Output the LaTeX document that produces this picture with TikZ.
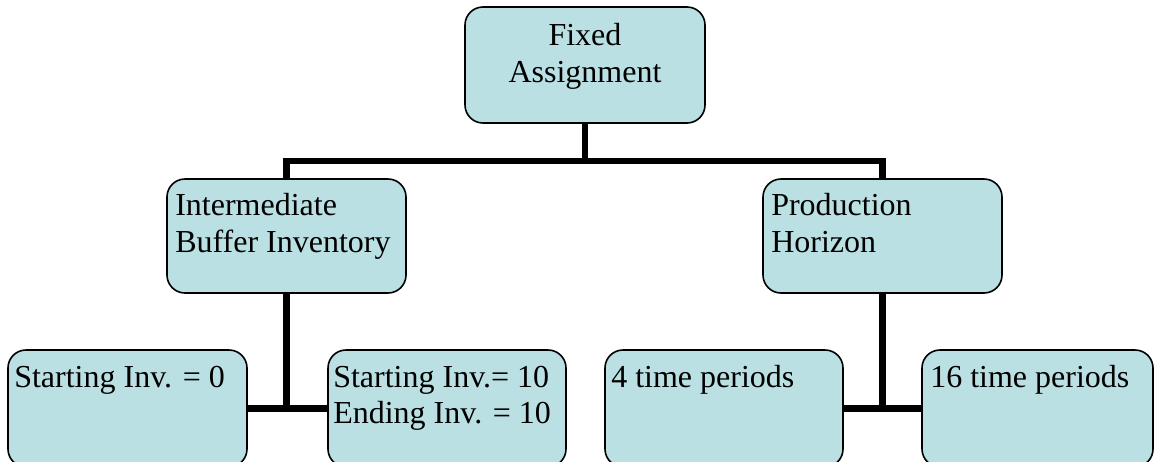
\documentclass[tikz,border=0pt]{standalone}
\usepackage{fontspec}
\setmainfont{Liberation Serif}
\definecolor{boxfill}{RGB}{187,224,227}
\begin{document}
\begin{tikzpicture}[x=0.75pt,y=-0.75pt,
  box/.style={draw=black, fill=boxfill, line width=1.2pt, rounded corners=13.5pt,
    inner sep=0pt, outer sep=0pt, anchor=north west, minimum width=179.25pt},
  midbox/.style={box, minimum height=85.5pt},
  lowbox/.style={box, minimum height=87.75pt},
  txt/.style={inner sep=0pt, anchor=base west, font=\fontsize{24pt}{28pt}\selectfont},
  ctxt/.style={txt, anchor=base},
  conn/.style={line width=5pt, draw=black}]
\useasboundingbox (0,0) rectangle (1156,461);
% boxes
\node[box, minimum width=180pt, minimum height=87pt] (top) at (465,7) {};
\node[midbox] (mL) at (167,179) {};
\node[midbox] (mR) at (763,179) {};
\node[lowbox] (b1) at (8,350) {};
\node[lowbox, minimum width=178.5pt] (b2) at (328,350) {};
\node[lowbox, minimum width=178.5pt] (b3) at (605,350) {};
\node[lowbox, minimum width=173.25pt] (b4) at (922,350) {};
% connectors
\coordinate (j1) at (585,161);
\draw[conn] (top.south) -- (j1);
\draw[conn] (mL.north) |- (j1) -| (mR.north);
\draw[conn] (mL.south) -- (mL.south |- b1.east);
\draw[conn] (b1.east) -- (b2.west);
\draw[conn] (mR.south) -- (mR.south |- b3.east);
\draw[conn] (b3.east) -- (b4.west);
% texts
\node[ctxt] (t1) at (585,45) {Fixed};
\node[ctxt] (t2) at (585,82) {Assignment};
\node[txt] (t3) at (175,215) {Intermediate};
\node[txt] (t4) at (175,252) {Buffer Inventory};
\node[txt] (t5) at (771,215) {Production};
\node[txt] (t6) at (771,252) {Horizon};
\node[txt] (t7) at (14,387) {Starting Inv. = 0};
\node[txt] (t8) at (333,387) {Starting Inv.= 10};
\node[txt] (t9) at (333,423) {Ending Inv. = 10};
\node[txt] (t10) at (611,387) {4 time periods};
\node[txt] (t11) at (930,387) {16 time periods};
\end{tikzpicture}
\end{document}
